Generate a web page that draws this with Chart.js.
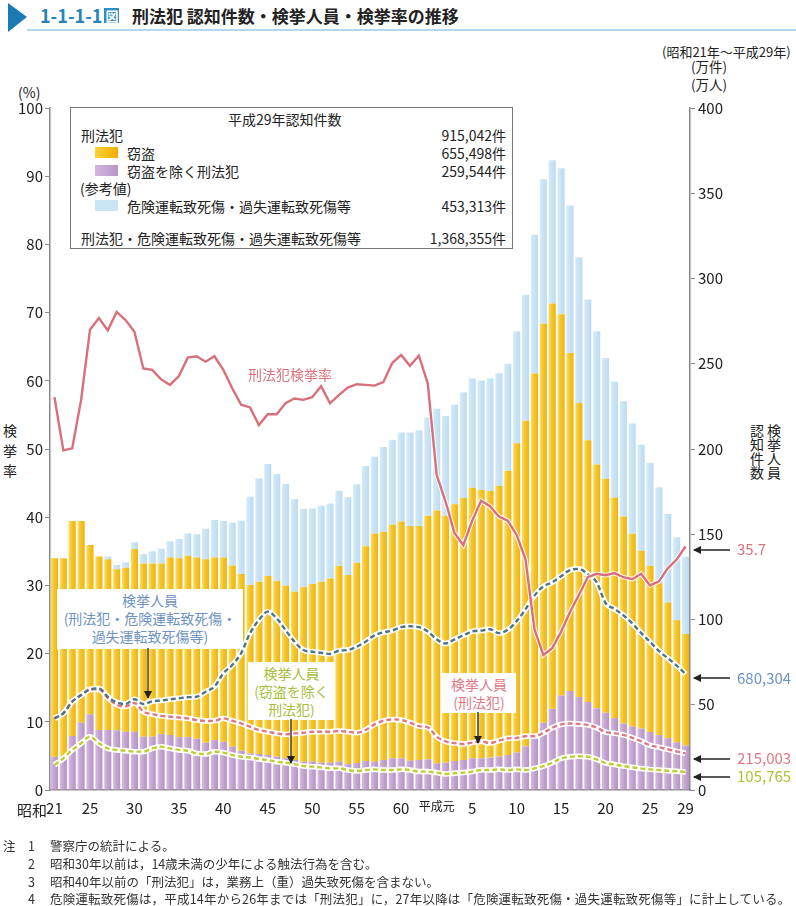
<!DOCTYPE html>
<html lang="ja">
<head>
<meta charset="utf-8">
<title>刑法犯 認知件数・検挙人員・検挙率の推移</title>
<script src="https://cdn.jsdelivr.net/npm/chart.js@4.4.1/dist/chart.umd.min.js"></script>
<style>
  body { margin: 0; width: 796px; height: 906px; position: relative; overflow: hidden;
         background: #fff; color: #222; font-family: 'Noto Sans CJK JP', sans-serif; }
  .abs { position: absolute; white-space: nowrap; }
  #wrap { position: absolute; left: 0; top: 90px; width: 796px; height: 730px; }
  .legend { left: 70px; top: 107px; width: 441px; height: 140px; border: 1px solid #777; background: #fff; }
  .lg { font-size: 14px; line-height: 16px; }
  .num { font-size: 14px; line-height: 16px; text-align: right; width: 120px; }
  .sw { width: 23px; height: 11px; }
  .box { background: #fff; text-align: center; font-size: 14px; line-height: 18px; }
  .val { font-size: 15px; line-height: 18px; }
  .note { font-size: 12.5px; line-height: 15px; color: #333; }
</style>
</head>
<body>

<!-- title -->
<svg class="abs" style="left:0;top:0" width="796" height="40">
  <polygon points="8,3 27,17 8,32" fill="#1b7ab4"/>
  <line x1="27" y1="30" x2="796" y2="30" stroke="#9bcbe4" stroke-width="1.5"/>
</svg>
<div class="abs" style="left:40px;top:3px;font-size:18px;font-weight:bold;color:#2585b8;line-height:24px;">1-1-1-1<span style="display:inline-block;background:#2f8fbf;color:#fff;font-size:13px;line-height:15px;padding:0 1px;margin-left:2px;vertical-align:2px;">図</span></div>
<div class="abs" style="left:132px;top:4px;font-size:17px;font-weight:bold;line-height:24px;">刑法犯 認知件数・検挙人員・検挙率の推移</div>

<div class="abs" style="left:662px;top:42px;font-size:13px;">(昭和21年～平成29年)</div>
<div class="abs" style="left:691px;top:57px;font-size:13.5px;line-height:18px;">(万件)<br>(万人)</div>
<div class="abs" style="left:18px;top:82px;font-size:14px;">(%)</div>
<div class="abs" style="left:0;top:424px;font-size:14px;writing-mode:vertical-rl;letter-spacing:6px;">検挙率</div>
<div class="abs" style="left:748px;top:424px;font-size:14px;line-height:17px;writing-mode:vertical-rl;">検挙人員<br>認知件数</div>

<div id="wrap"><canvas id="chart"></canvas></div>

<!-- legend -->
<div class="abs legend"></div>
<div class="abs lg" style="left:228px;top:111px;">平成29年認知件数</div>
<div class="abs lg" style="left:81px;top:127px;">刑法犯</div>
<div class="abs num" style="left:386px;top:127px;">915,042件</div>
<div class="abs sw" style="left:95px;top:147px;background:linear-gradient(90deg,#f9d33a,#f2ad00);"></div>
<div class="abs lg" style="left:127px;top:145px;">窃盗</div>
<div class="abs num" style="left:386px;top:145px;">655,498件</div>
<div class="abs sw" style="left:95px;top:165px;background:linear-gradient(90deg,#d3b6de,#b995c9);"></div>
<div class="abs lg" style="left:127px;top:163px;">窃盗を除く刑法犯</div>
<div class="abs num" style="left:386px;top:163px;">259,544件</div>
<div class="abs lg" style="left:80px;top:180px;">(参考値)</div>
<div class="abs sw" style="left:95px;top:200px;background:#c9e4f5;"></div>
<div class="abs lg" style="left:127px;top:198px;">危険運転致死傷・過失運転致死傷等</div>
<div class="abs num" style="left:386px;top:198px;">453,313件</div>
<div class="abs lg" style="left:81px;top:230px;">刑法犯・危険運転致死傷・過失運転致死傷等</div>
<div class="abs num" style="left:386px;top:230px;">1,368,355件</div>

<!-- annotations -->
<div class="abs" style="left:248px;top:364px;font-size:14px;color:#d9737d;">刑法犯検挙率</div>
<div class="abs box" style="left:57px;top:589px;width:186px;height:58px;color:#6d93c3;padding-top:2px;">検挙人員<br>(刑法犯・危険運転致死傷・<br>過失運転致死傷等)</div>
<div class="abs box" style="left:248px;top:662px;width:87px;height:56px;color:#a5bf38;padding-top:2px;">検挙人員<br>(窃盗を除く<br>刑法犯)</div>
<div class="abs box" style="left:442px;top:673px;width:74px;height:38px;color:#e07a86;padding-top:2px;">検挙人員<br>(刑法犯)</div>

<div class="abs val" style="left:737px;top:540px;color:#d9737d;">35.7</div>
<div class="abs val" style="left:737px;top:669px;color:#6d93c3;">680,304</div>
<div class="abs val" style="left:737px;top:749px;color:#e07a86;">215,003</div>
<div class="abs val" style="left:737px;top:767px;color:#abc436;">105,765</div>

<div class="abs" style="left:17px;top:800px;font-size:15px;line-height:20px;">昭和</div>

<svg class="abs" style="left:0;top:0" width="796" height="906">
  <defs>
    <marker id="ah" markerWidth="8" markerHeight="8" refX="7" refY="4" orient="auto" markerUnits="userSpaceOnUse">
      <path d="M0,0 L8,4 L0,8 z" fill="#222"/>
    </marker>
  </defs>
  <g stroke="#222" stroke-width="1.3" fill="none">
    <line x1="148" y1="648" x2="148" y2="698" marker-end="url(#ah)"/>
    <line x1="291" y1="719" x2="291" y2="763" marker-end="url(#ah)"/>
    <line x1="478" y1="712" x2="478" y2="743" marker-end="url(#ah)"/>
    <line x1="730" y1="550" x2="694" y2="550" marker-end="url(#ah)"/>
    <line x1="730" y1="678" x2="694" y2="678" marker-end="url(#ah)"/>
    <line x1="730" y1="759" x2="694" y2="759" marker-end="url(#ah)"/>
    <line x1="730" y1="777" x2="694" y2="777" marker-end="url(#ah)"/>
  </g>
</svg>

<!-- notes -->
<div class="abs note" style="left:3px;top:838px;">注</div>
<div class="abs note" style="left:28px;top:838px;">1</div>
<div class="abs note" style="left:50px;top:838px;">警察庁の統計による。</div>
<div class="abs note" style="left:28px;top:856px;">2</div>
<div class="abs note" style="left:50px;top:856px;">昭和30年以前は，14歳未満の少年による触法行為を含む。</div>
<div class="abs note" style="left:28px;top:874px;">3</div>
<div class="abs note" style="left:50px;top:874px;">昭和40年以前の「刑法犯」は，業務上（重）過失致死傷を含まない。</div>
<div class="abs note" style="left:28px;top:891px;">4</div>
<div class="abs note" style="left:50px;top:891px;letter-spacing:0.2px;">危険運転致死傷は，平成14年から26年までは「刑法犯」に，27年以降は「危険運転致死傷・過失運転致死傷等」に計上している。</div>

<script>
// 昭和21年～平成29年
const years = ['昭和21','22','23','24','25','26','27','28','29','30',
  '31','32','33','34','35','36','37','38','39','40',
  '41','42','43','44','45','46','47','48','49','50',
  '51','52','53','54','55','56','57','58','59','60',
  '61','62','63','平成元','2','3','4','5','6','7',
  '8','9','10','11','12','13','14','15','16','17',
  '18','19','20','21','22','23','24','25','26','27',
  '28','29'];

// x tick labels (blank = not shown)
const xTickLabels = ['21','','','','25','','','','','30',
  '','','','','35','','','','','40',
  '','','','','45','','','','','50',
  '','','','','55','','','','','60',
  '','','','平成元','','','','5','','',
  '','','10','','','','','15','','',
  '','','20','','','','','25','','',
  '','29'];

// 認知件数 (万件)
const theft = [116.4,116.4,126.1,118.3,99.3,101.7,100.1,94.4,96.2,107.1,
  101.6,101.6,100.1,104.0,104.9,106.4,106.3,107.6,107.0,108.0,
  106.2,103.7,98.7,101.1,105.0,103.1,101.2,98.7,102.3,104.2,
  106.2,108.1,114.8,110.9,117.5,126.0,133.8,133.7,136.9,138.9,
  137.6,137.2,142.9,148.4,144.9,150.6,153.6,158.6,157.4,156.3,
  158.8,166.8,181.4,191.0,213.1,234.1,237.8,223.6,198.2,172.5,
  153.5,143.0,137.3,129.2,121.4,113.0,104.3,97.4,89.0,79.5,
  71.6,65.5];

const otherPenal = [19.5,19.5,31.7,39.5,44.4,35.2,35.2,35.0,34.2,34.2,
  31.3,31.3,32.8,32.3,31.0,31.0,30.0,27.7,29.3,28.3,
  25.4,23.0,21.5,21.1,20.5,19.5,18.6,17.6,16.6,16.6,
  16.0,16.0,16.6,15.2,15.8,17.0,16.6,17.6,18.6,18.6,
  17.2,17.6,18.0,15.6,16.0,17.0,17.6,18.6,18.6,19.0,
  19.6,20.5,22.0,25.6,31.2,39.4,47.6,55.4,58.1,54.5,
  51.6,47.9,45.3,42.2,39.0,37.3,36.0,34.0,32.2,30.4,
  28.0,26.0];

const traffic = [0,0,0,0,0,0,1.6,2.6,3.1,4.0,
  5.5,7.1,8.6,9.5,11.3,13.1,13.7,18.0,22.1,21.5,
  25.2,31.3,51.8,60.6,65.7,62.7,59.7,54.4,45.9,44.3,
  44.5,43.9,44.0,45.6,46.0,47.0,45.1,49.9,49.8,52.2,
  54.9,56.1,57.6,59.6,58.4,58.4,62.0,64.2,64.2,66.1,
  66.1,62.7,65.6,73.8,81.3,84.7,84.0,85.6,86.5,85.5,
  82.6,78.2,70.7,68.1,67.6,64.7,62.2,60.4,56.3,52.1,
  48.6,45.3];

// 検挙率 (%)
const clearanceRate = [57.6,49.8,50.1,57.2,67.5,69.2,67.4,70.1,68.9,67.2,
  61.8,61.6,60.2,59.4,60.7,63.4,63.6,62.8,63.6,61.6,
  58.9,56.5,56.1,53.5,55.1,55.1,56.7,57.4,57.2,57.6,
  59.2,56.7,57.9,59.0,59.5,59.4,59.3,59.8,62.6,63.8,
  62.2,63.7,59.6,46.2,42.3,37.7,35.9,39.5,42.4,41.6,
  40.1,39.5,37.4,33.8,23.6,19.8,20.8,23.2,26.1,28.6,
  31.2,31.7,31.5,31.8,31.2,30.9,31.7,30.0,30.6,32.5,
  33.8,35.7];

// 検挙人員 (万人)
const arrestedAll = [42,45,51.8,55.7,59,59.6,54.7,51.4,50.4,53.2,
  50.4,52,52.5,53.2,53.8,54.4,54.7,57.6,60.6,68.4,
  73.3,80.2,91.9,99.7,104.6,100.7,93.8,87,82.1,81.1,
  80.5,79.8,81.7,82.1,84,87,90.7,92.5,93.5,95.5,
  96,95.5,93,88.3,85.9,88.3,90.7,93,93.5,94.3,
  92,94,99,106,114,119.4,121.8,125.4,129,129.7,
  126.6,121.8,109.7,106.2,102.5,97.7,92.2,86.9,81.6,77.3,
  73,68.0];

const arrestedPenal = [42,45,51.8,55.7,59,59,54,50,49,51,
  46,44.5,43.5,43,42.5,42,41,40.5,40.6,42,
  40.6,39.1,37.1,35.2,34.2,33.2,32.6,33.2,33.6,34.2,
  34.2,34.2,34.6,34.2,33.6,35.2,38.5,40.6,41.4,41.1,
  39.5,37.5,36.8,31.3,28.5,27.5,27,27.8,28.5,27.5,
  28.9,30.3,30.5,31.5,31.5,33.5,36.5,38.5,39,38.7,
  38.2,36.6,34,33.3,32.3,30.6,28.7,26.2,25.1,23.9,
  22.6,21.5];

const arrestedOther = [14.7,18.6,23.5,27.4,31.3,27.4,24.4,23.5,23,22.5,
  22.5,24.4,25.4,24.4,23.5,23,21.5,21.1,22.5,21.9,
  20.5,19.5,19.1,18.2,17.6,16.6,16,15.2,14.1,13.7,
  13.3,12.7,12.7,11.7,11.1,11.7,12.1,11.7,11.7,12.1,
  11.7,10.8,10.8,10.2,9.4,9.8,10.2,10.8,11.7,11.7,
  12.1,11.7,12.1,11.7,12.7,14,16,18.5,19.5,19.8,
  19.5,18,15.8,15,14,13.3,12.6,12.1,11.7,11.3,
  11,10.6];

Chart.defaults.font.family = "'Noto Sans CJK JP', sans-serif";
Chart.defaults.color = '#222';

// bars get a left-to-right shade like the printed figure
const barShade = (light, mid, dark) => c => {
  const xs = c.chart.scales.x;
  if (!xs || c.dataIndex === undefined) return mid;
  const px = xs.getPixelForValue(c.dataIndex);
  if (!Number.isFinite(px)) return mid;
  const g = c.chart.ctx.createLinearGradient(px - 3.6, 0, px + 3.6, 0);
  g.addColorStop(0, light);
  g.addColorStop(0.45, mid);
  g.addColorStop(1, dark);
  return g;
};

const dashLine = (label, data, color, stack) => ({
  type: 'line', label, data, yAxisID: 'y2', stack,
  borderColor: color, borderWidth: 2.4, borderDash: [5, 3],
  pointRadius: 0, cubicInterpolationMode: 'monotone', order: 2
});
const haloLine = (data, stack) => ({
  type: 'line', label: '', data, yAxisID: 'y2', stack,
  borderColor: '#ffffff', borderWidth: 5.5,
  pointRadius: 0, cubicInterpolationMode: 'monotone', order: 3
});

const axisGray = '#8a8a8a';

new Chart(document.getElementById('chart').getContext('2d'), {
  type: 'bar',
  data: {
    labels: years,
    datasets: [
      { type: 'line', label: '刑法犯検挙率', data: clearanceRate, yAxisID: 'y',
        borderColor: '#d8707b', borderWidth: 2.4, pointRadius: 0, tension: 0, order: 1 },
      { type: 'line', label: '', data: clearanceRate, yAxisID: 'y',
        borderColor: 'rgba(255,255,255,0.85)', borderWidth: 4.5, pointRadius: 0, tension: 0, order: 1.5 },
      haloLine(arrestedAll, 'h1'),
      dashLine('検挙人員（刑法犯・危険運転致死傷・過失運転致死傷等）', arrestedAll, '#4f7584', 'l1'),
      haloLine(arrestedPenal, 'h2'),
      dashLine('検挙人員（刑法犯）', arrestedPenal, '#de7a85', 'l2'),
      haloLine(arrestedOther, 'h3'),
      dashLine('検挙人員（窃盗を除く刑法犯）', arrestedOther, '#c2cc35', 'l3'),
      { label: '窃盗を除く刑法犯', data: otherPenal, yAxisID: 'y2', stack: 'bars',
        backgroundColor: barShade('#d6bce0', '#c6a5d3', '#b592c5'),
        barPercentage: 0.8, categoryPercentage: 1, order: 10 },
      { label: '窃盗', data: theft, yAxisID: 'y2', stack: 'bars',
        backgroundColor: barShade('#fadf62', '#f5c52a', '#eeb210'),
        barPercentage: 0.8, categoryPercentage: 1, order: 10 },
      { label: '危険運転致死傷・過失運転致死傷等', data: traffic, yAxisID: 'y2', stack: 'bars',
        backgroundColor: barShade('#d6ecf8', '#c9e4f5', '#bddcf0'),
        barPercentage: 0.8, categoryPercentage: 1, order: 10 }
    ]
  },
  options: {
    responsive: true,
    maintainAspectRatio: false,
    animation: false,
    layout: { padding: { top: 18, left: 0, right: 0, bottom: 0 } },
    plugins: { legend: { display: false }, tooltip: { enabled: false } },
    scales: {
      x: {
        stacked: true,
        grid: { display: false },
        border: { display: true, color: axisGray, width: 1.5 },
        ticks: {
          autoSkip: false, maxRotation: 0, padding: 1, color: '#222',
          font: c => ({ size: c.index === 43 ? 12 : 15 }),
          callback: (v, i) => xTickLabels[i]
        },
        afterFit: s => { s.height = 30; }
      },
      y: {
        position: 'left', min: 0, max: 100,
        ticks: { stepSize: 10, padding: 2, color: '#222', font: { size: 15 } },
        grid: { drawOnChartArea: false, drawTicks: true, tickLength: 5, color: axisGray },
        border: { color: axisGray, width: 1.5 },
        afterFit: s => { s.width = 50; }
      },
      y2: {
        position: 'right', stacked: true, min: 0, max: 400,
        ticks: { stepSize: 50, padding: 3, color: '#222', font: { size: 15 } },
        grid: { drawOnChartArea: false, drawTicks: true, tickLength: 5, color: axisGray },
        border: { color: axisGray, width: 1.5 },
        afterFit: s => { s.width = 106; }
      }
    }
  }
});
</script>
</body>
</html>
